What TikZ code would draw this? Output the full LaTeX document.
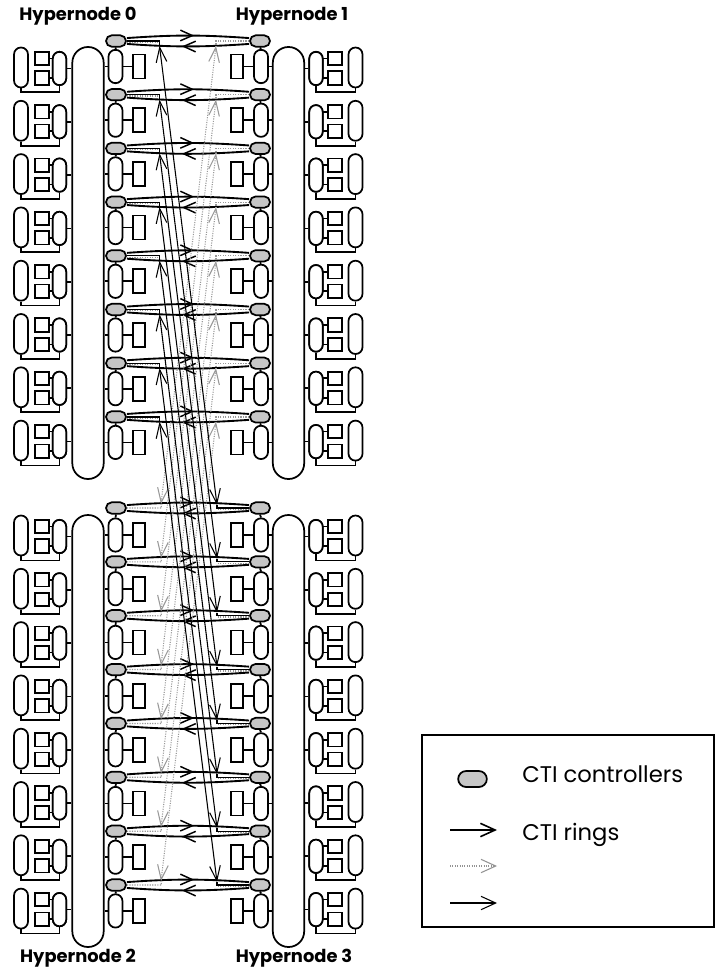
\documentclass[tikz,border=0pt]{standalone}
\usepackage{fontspec}
\setmainfont{Poppins}
\usetikzlibrary{arrows.meta,shapes.misc,decorations.markings,calc}
\tikzset{
  vpill/.style={draw,line width=1.3pt,fill=white,inner sep=0pt,rectangle},
  outerpill/.style={vpill,minimum width=10.5pt,minimum height=30pt,rounded corners=5.2pt},
  innerpill/.style={vpill,minimum width=10pt,minimum height=25pt,rounded corners=5pt},
  midpill/.style={vpill,minimum width=10.5pt,minimum height=25pt,rounded corners=5.2pt},
  bigpill/.style={vpill,fill=none,minimum width=23.5pt,minimum height=324pt,rounded corners=11.7pt},
  cpubox/.style={vpill,minimum width=10.5pt,minimum height=10pt},
  membox/.style={vpill,minimum width=9pt,minimum height=18pt},
  ctrl/.style={draw,line width=1.3pt,fill=gray!45,rounded rectangle,inner sep=0pt,minimum width=15pt,minimum height=8.5pt},
  wire/.style={line width=1.3pt},
  ringline/.style={line width=1.4pt,postaction={decorate},decoration={markings,mark=at position .55 with {\arrow[line width=1.1pt]{Straight Barb[length=9pt,width=8pt]}}}},
  blacklink/.style={line width=.8pt,{Straight Barb[length=11pt,width=8pt]}-{Straight Barb[length=11pt,width=8pt]}},
  greylink/.style={line width=.8pt,gray!80,densely dotted,{Straight Barb[length=11pt,width=8pt]}-{Straight Barb[length=11pt,width=8pt]}},
  stubblack/.style={line width=.9pt},
  stubgrey/.style={line width=.9pt,gray!80,densely dotted},
  title/.style={font=\fontsize{13.4pt}{15pt}\selectfont\bfseries,inner sep=0pt},
  legendtext/.style={font=\fontsize{17pt}{20pt}\selectfont,inner sep=0pt,anchor=base west},
}
\newcommand{\clusterrow}[5]{% name, y, innerx, boxx, outerx
  \node[outerpill] (#1o) at (#5,#2-1) {};
  \node[innerpill] (#1i) at (#3,#2) {};
  \node[cpubox] (#1a) at (#4,#2-10) {};
  \node[cpubox] (#1b) at (#4,#2+9.5) {};
  \draw[wire] (#1a) -- (#1a -| #1i.center);
  \draw[wire] (#1b) -- (#1b -| #1i.center);
  \node[innerpill] at (#3,#2) {};
  \draw[wire] (#1o.south) -- ++(0,4) -| (#1i.south);
}
\begin{document}
\begin{tikzpicture}[x=0.75pt,y=-0.75pt]
\useasboundingbox (0,0) rectangle (720,970);
\path[fill=white] (0,0) rectangle (720,970);
% titles
\node[title] (t0) at (78,16) {Hypernode 0};
\node[title] (t1) at (292,16) {Hypernode 1};
\node[title] (t2) at (78,958) {Hypernode 2};
\node[title] (t3) at (294,958) {Hypernode 3};
% backplanes
\node[bigpill] (b0) at (88,263) {};
\node[bigpill] (b1) at (288.5,263) {};
\node[bigpill] (b2) at (88,731) {};
\node[bigpill] (b3) at (288.5,731) {};
\foreach \i in {0,...,7}{
  \pgfmathsetmacro{\rt}{41+53.7*\i}
  \pgfmathsetmacro{\rb}{508+53.86*\i}
  \pgfmathsetmacro{\ct}{68.5+53.3*\i}
  \pgfmathsetmacro{\cb}{536.5+53.3*\i}
  \pgfmathsetmacro{\mt}{66.5+53.7*\i}
  \pgfmathsetmacro{\mb}{535+53.7*\i}
  % outer clusters
  \clusterrow{L\i}{\ct}{59.5}{42}{21}
  \clusterrow{R\i}{\ct}{316}{335}{355.5}
  \clusterrow{M\i}{\cb}{59.5}{42}{21}
  \clusterrow{N\i}{\cb}{316}{335}{355.5}
  \draw[wire] (L\i i.east) -- (L\i i.east -| b0.west);
  \draw[wire] (R\i i.west) -- (R\i i.west -| b1.east);
  \draw[wire] (M\i i.east) -- (M\i i.east -| b2.west);
  \draw[wire] (N\i i.west) -- (N\i i.west -| b3.east);
  % controllers
  \node[ctrl] (cA\i) at (116,\rt) {};
  \node[ctrl] (cB\i) at (260,\rt) {};
  \node[ctrl] (cC\i) at (116,\rb) {};
  \node[ctrl] (cD\i) at (260,\rb) {};
  % inner pills and memory
  \node[midpill] (pA\i) at (115.5,\mt) {};
  \node[midpill] (pB\i) at (261,\mt) {};
  \node[midpill] (pC\i) at (115.5,\mb) {};
  \node[midpill] (pD\i) at (261,\mb) {};
  \node[membox] (mA\i) at (139,\mt) {};
  \node[membox] (mB\i) at (237,\mt) {};
  \node[membox] (mC\i) at (139,\mb) {};
  \node[membox] (mD\i) at (237,\mb) {};
  \foreach \k/\bb in {A/b0,C/b2}{
    \draw[wire] (p\k\i.west) -- (p\k\i.west -| \bb.east);
    \draw[wire] (p\k\i.east) -- (m\k\i.west);
    \draw[wire] (c\k\i.south) -- (p\k\i.north);
  }
  \foreach \k/\bb in {B/b1,D/b3}{
    \draw[wire] (p\k\i.east) -- (p\k\i.east -| \bb.west);
    \draw[wire] (p\k\i.west) -- (m\k\i.east);
    \draw[wire] (c\k\i.south) -- (p\k\i.north);
  }
  % coordinates of link ends
  \coordinate (ta\i) at (159.5,\rt+5);
  \coordinate (tb\i) at (216,\rt+5);
  \coordinate (ba\i) at (161,\rb-4);
  \coordinate (bb\i) at (217,\rb-3);
  \coordinate (sa\i) at (159.5,\rt);
  \coordinate (sb\i) at (216,\rt);
  \coordinate (sc\i) at (161.5,\rb);
  \coordinate (sd\i) at (217,\rb);
  % rings
  \draw[ringline] ($(cA\i.east)+(0,2.2pt)$) to[bend left=4] ($(cB\i.west)+(0,2.2pt)$);
  \draw[ringline] ($(cB\i.west)+(0,-2.2pt)$) to[bend left=4] ($(cA\i.east)+(0,-2.2pt)$);
  \draw[ringline] ($(cC\i.east)+(0,2.2pt)$) to[bend left=4] ($(cD\i.west)+(0,2.2pt)$);
  \draw[ringline] ($(cD\i.west)+(0,-2.2pt)$) to[bend left=4] ($(cC\i.east)+(0,-2.2pt)$);
  % stubs
  \draw[stubblack] (cA\i.east) -- (sa\i) -- (ta\i);
  \draw[stubgrey] ($(cA\i.east)+(0,-1pt)$) -- ($(sa\i)+(0,-1pt)$);
  \draw[stubgrey] (cB\i.west) -- (sb\i) -- (tb\i);
  \draw[stubgrey] (cC\i.east) -- (sc\i) -- (ba\i);
  \draw[stubblack] (cD\i.west) -- (sd\i) -- (bb\i);
  \draw[stubgrey] ($(cD\i.west)+(0,-1pt)$) -- ($(sd\i)+(0,-1pt)$);
}
% inter-hypernode links
\foreach \i in {0,...,7}{
  \draw[greylink] (tb\i) -- (ba\i);
}
\foreach \i in {0,...,7}{
  \draw[blacklink] (ta\i) -- (bb\i);
}
% legend
\node[draw,line width=1.9pt,inner sep=0pt,minimum width=219pt,minimum height=144pt] (leg) at (568,831) {};
\node[ctrl,minimum width=21.5pt,minimum height=12pt] (lc) at (472.5,779) {};
\node[legendtext] (lt1) at (522,782) {CTI controllers};
\node[legendtext] (lt2) at (522,840) {CTI rings};
\coordinate (a1) at (450,830); \coordinate (a1e) at (497,830);
\coordinate (a2) at (450,866); \coordinate (a2e) at (497,866);
\coordinate (a3) at (450,903); \coordinate (a3e) at (497,903);
\draw[line width=1.2pt,-{Straight Barb[length=11pt,width=10pt]}] (a1) -- (a1e);
\draw[line width=.8pt,gray!85,densely dotted,-{Straight Barb[length=11pt,width=10pt]}] (a2) -- (a2e);
\draw[line width=.8pt,-{Straight Barb[length=11pt,width=10pt]}] (a3) -- (a3e);
\end{tikzpicture}
\end{document}
